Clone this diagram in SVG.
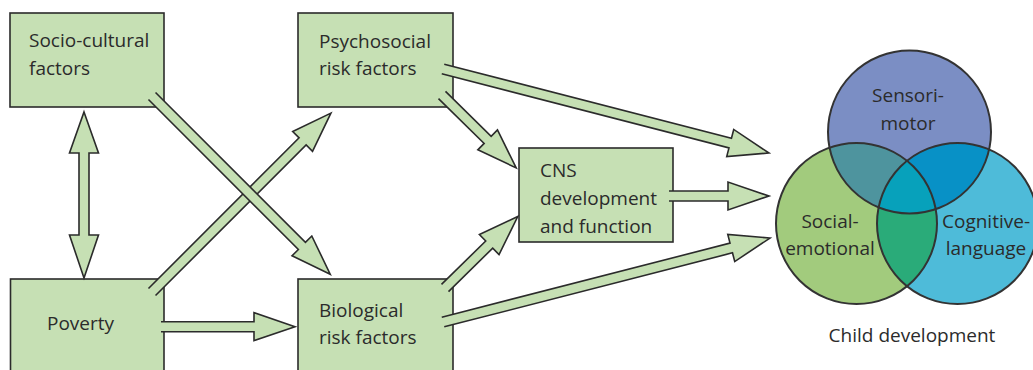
<svg xmlns="http://www.w3.org/2000/svg" width="1033" height="370" viewBox="0 0 1033 370">
<style>
.box{fill:#c6e0b4;stroke:#2b2b2b;stroke-width:1.6}
.arr{fill:#c6e0b4;stroke:#2b2b2b;stroke-width:1.6;stroke-linejoin:miter}
.t{font-family:"Open Sans","Liberation Sans",sans-serif;font-size:19px;fill:#2b2b2b}
.c{font-family:"Open Sans","Liberation Sans",sans-serif;font-size:19px;fill:#2b2b2b;text-anchor:middle}
.ring{fill:none;stroke:#333;stroke-width:2}
</style>
<defs>
<clipPath id="cpB"><circle cx="909.5" cy="132" r="81.5"/></clipPath>
<clipPath id="cpG"><circle cx="856.5" cy="223.5" r="80.5"/></clipPath>
<clipPath id="cpC"><circle cx="957.5" cy="223.5" r="80.5"/></clipPath>
</defs>
<rect width="1033" height="370" fill="#fff"/>
<g id="socio"><rect class="box" x="10" y="13" width="154" height="94"/><text class="t" x="29" y="47">Socio-cultural</text><text class="t" x="29" y="75">factors</text></g>
<g id="poverty"><rect class="box" x="10.5" y="279" width="153.5" height="100"/><text class="t" x="47" y="330">Poverty</text></g>
<g id="psycho"><rect class="box" x="298" y="13" width="155" height="94"/><text class="t" x="319" y="48">Psychosocial</text><text class="t" x="319" y="75">risk factors</text></g>
<g id="bio"><rect class="box" x="298" y="279" width="155" height="100"/><text class="t" x="319" y="317">Biological</text><text class="t" x="319" y="344">risk factors</text></g>
<g id="cns"><rect class="box" x="519" y="148" width="154" height="94"/><text class="t" x="540" y="177">CNS</text><text class="t" x="540" y="205">development</text><text class="t" x="540" y="233">and function</text></g>
<g id="connectors">
<path class="arr" d="M84,112 L98.5,153 L89,153 L89,235 L98.5,235 L84,278 L69.5,235 L79,235 L79,153 L69.5,153 Z"/>
<path class="arr" transform="translate(161,326.7)" d="M0,-5 L93,-5 L93,-14 L134,0 L93,14 L93,5 L0,5"/>
<path class="arr" transform="translate(152,292) rotate(-45)" d="M0,-5 L213,-5 L213,-14 L253,0 L213,14 L213,5 L0,5"/>
<path class="arr" transform="translate(152,96) rotate(45)" d="M0,-5 L212,-5 L212,-14 L252,0 L212,14 L212,5 L0,5"/>
<path class="arr" transform="translate(442,95) rotate(44.5)" d="M0,-5 L64,-5 L64,-14 L104,0 L64,14 L64,5 L0,5"/>
<path class="arr" transform="translate(445,288) rotate(-44.5)" d="M0,-5 L62,-5 L62,-14 L102,0 L62,14 L62,5 L0,5"/>
<path class="arr" transform="translate(443,69) rotate(14.45)" d="M0,-5 L296.6,-5 L296.6,-14 L336.6,0 L296.6,14 L296.6,5 L0,5"/>
<path class="arr" transform="translate(669,196)" d="M0,-5 L59,-5 L59,-14 L100,0 L59,14 L59,5 L0,5"/>
<path class="arr" transform="translate(443,322) rotate(-14.4)" d="M0,-5 L297.6,-5 L297.6,-14 L337.6,0 L297.6,14 L297.6,5 L0,5"/>
</g>
<g id="child-development">
<circle cx="909.5" cy="132" r="81.5" fill="#7b8ec4"/>
<circle cx="856.5" cy="223.5" r="80.5" fill="#a2cb7d"/>
<circle cx="957.5" cy="223.5" r="80.5" fill="#4ebbd9"/>
<circle cx="856.5" cy="223.5" r="80.5" fill="#4e949e" clip-path="url(#cpB)"/>
<circle cx="957.5" cy="223.5" r="80.5" fill="#0891c6" clip-path="url(#cpB)"/>
<circle cx="957.5" cy="223.5" r="80.5" fill="#2aab79" clip-path="url(#cpG)"/>
<g clip-path="url(#cpB)"><circle cx="957.5" cy="223.5" r="80.5" fill="#07a1bb" clip-path="url(#cpG)"/></g>
<circle class="ring" cx="909.5" cy="132" r="81.5"/>
<circle class="ring" cx="856.5" cy="223.5" r="80.5"/>
<circle class="ring" cx="957.5" cy="223.5" r="80.5"/>
<text class="c" x="908" y="102">Sensori-</text>
<text class="c" x="908" y="130">motor</text>
<text class="c" x="830" y="228">Social-</text>
<text class="c" x="830" y="255">emotional</text>
<text class="c" x="986" y="228">Cognitive-</text>
<text class="c" x="986" y="255">language</text>
<text class="c" x="912" y="342">Child development</text>
</g>
</svg>
